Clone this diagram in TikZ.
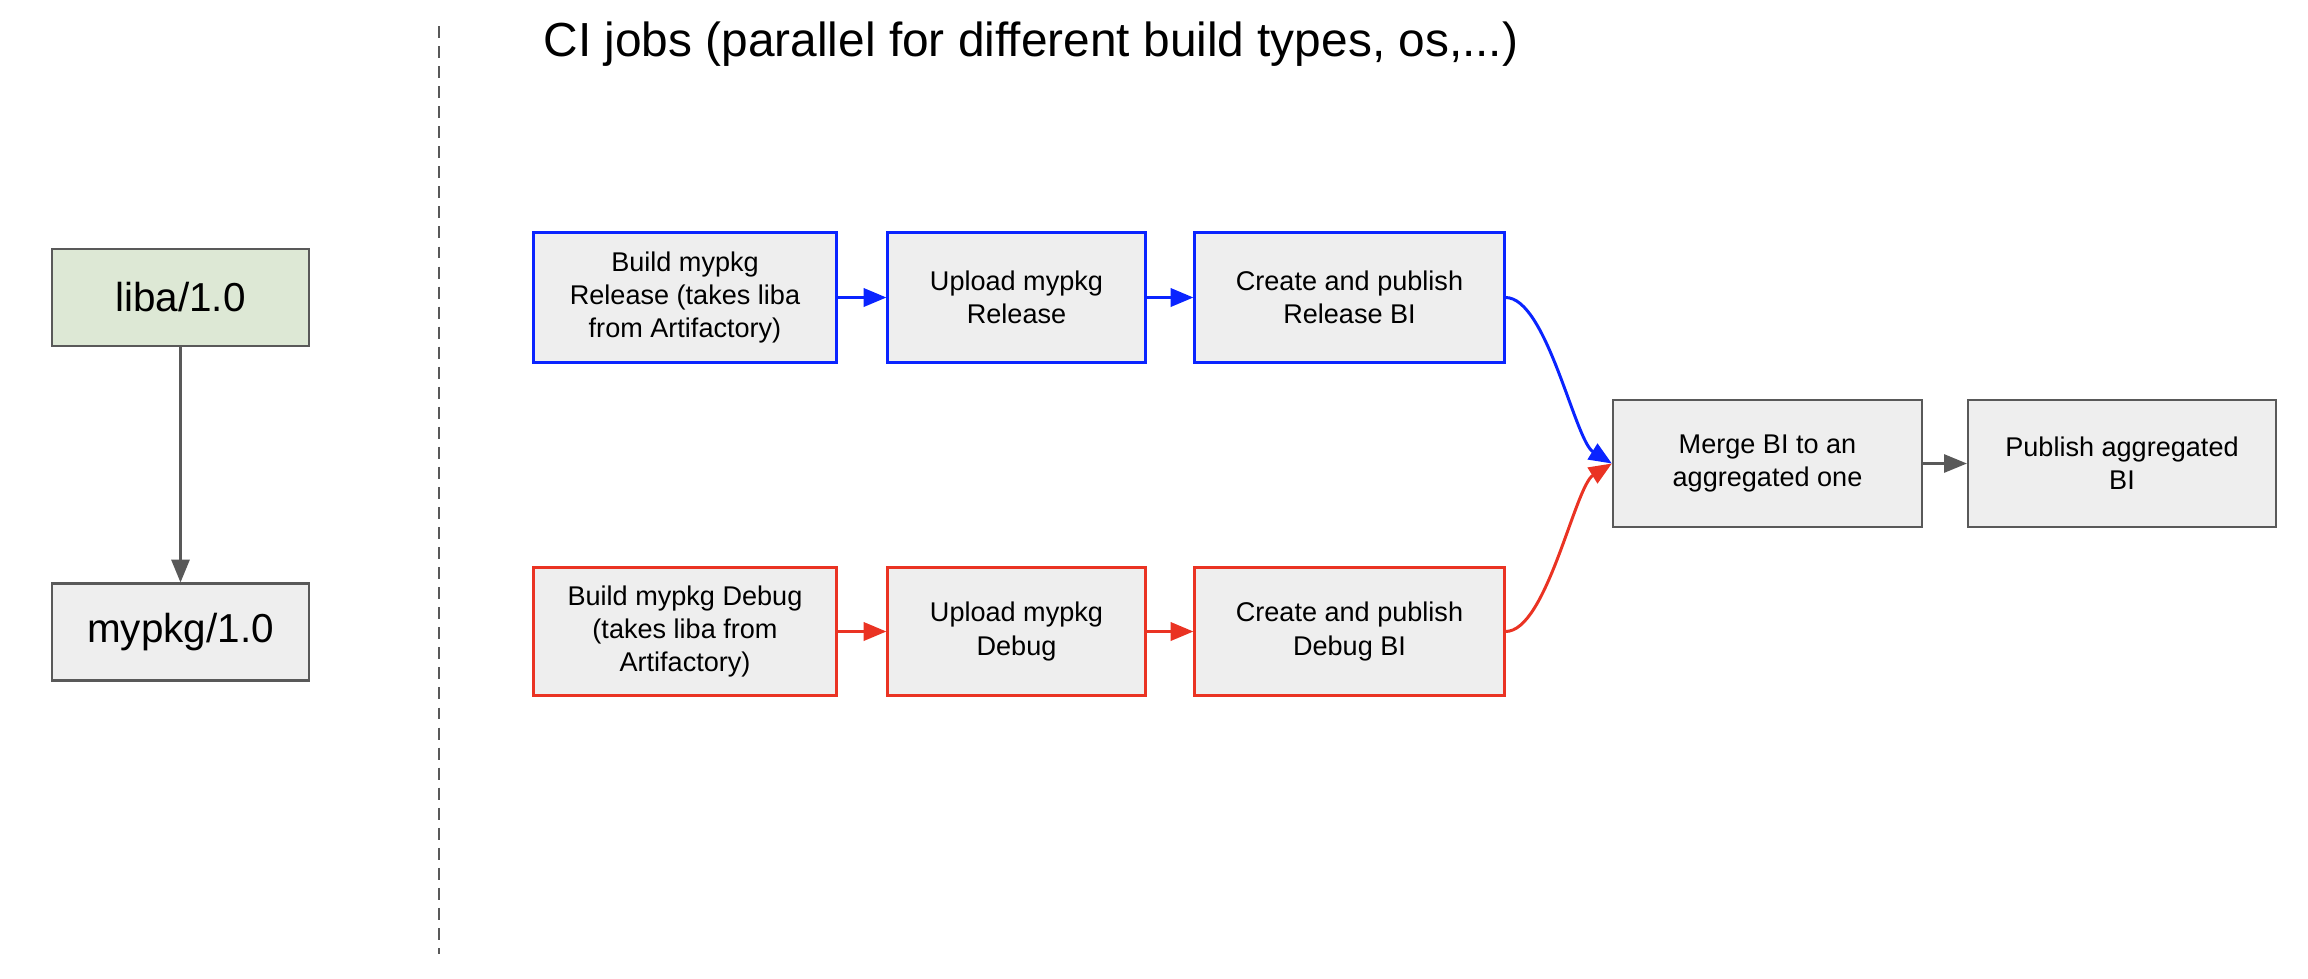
\documentclass[tikz,border=0pt]{standalone}
\usepackage{fontspec}
\setmainfont{Liberation Sans}
\usetikzlibrary{arrows.meta}
\definecolor{boxFill}{HTML}{EEEEEE}
\definecolor{libFill}{HTML}{DDE8D5}
\definecolor{greyStroke}{HTML}{595959}
\definecolor{relBlue}{HTML}{0A24FF}
\definecolor{dbgRed}{HTML}{EA3323}

\begin{document}
\begin{tikzpicture}[
  x=0.01cm, y=0.01cm,
  every node/.style={text=black},
  box/.style={draw=greyStroke, line width=0.6pt, fill=boxFill, align=center,
              inner sep=0pt, minimum height=1.27cm, font=\fontsize{7.7}{9.4}\selectfont},
  pkg/.style={box, minimum width=2.57cm, minimum height=0.97cm,
              font=\fontsize{11.5}{13}\selectfont},
  relbox/.style={box, draw=relBlue, line width=0.85pt, minimum height=1.29cm},
  dbgbox/.style={box, draw=dbgRed, line width=0.85pt},
  flow/.style={-{Triangle[length=6.5pt,width=5.2pt]}, line width=0.6pt, draw=greyStroke},
  relflow/.style={flow, draw=relBlue, line width=0.85pt},
  dbgflow/.style={flow, draw=dbgRed, line width=0.85pt},
  sep/.style={draw=greyStroke, line width=0.6pt, dash pattern=on 3.4pt off 2.3pt},
  title/.style={font=\fontsize{13.6}{15}\selectfont},
]
\useasboundingbox (0,0) rectangle (2308,-978);

% ---------------- PACKAGES ----------------
\node[pkg, fill=libFill] (LIBA) at (180.5,-297.5) {liba/1.0};
\node[pkg] (MYPKG) at (180.5,-632) {mypkg/1.0};

% ---------------- SEPARATOR + TITLE ----------------
\coordinate (SEPTOP) at (439,-26);
\coordinate (SEPBOT) at (439,-954);
\node[title] (TITLE) at (1031,-44) {CI jobs (parallel for different build types, os,...)};

% ---------------- CI JOBS ----------------
\node[relbox, minimum width=3.02cm] (BUILDR) at (685,-297.5)
  {Build mypkg\\Release (takes liba\\from Artifactory)};
\node[relbox, minimum width=2.57cm] (UPLOADR) at (1016.5,-297.5) {Upload mypkg\\Release};
\node[relbox, minimum width=3.09cm] (CREATER) at (1349.5,-297.5) {Create and publish\\Release BI};

\node[dbgbox, minimum width=3.02cm] (BUILDD) at (685,-631.5)
  {Build mypkg Debug\\(takes liba from\\Artifactory)};
\node[dbgbox, minimum width=2.57cm] (UPLOADD) at (1016.5,-631.5) {Upload mypkg\\Debug};
\node[dbgbox, minimum width=3.09cm] (CREATED) at (1349.5,-631.5) {Create and publish\\Debug BI};

\node[box, minimum width=3.09cm] (MERGE) at (1767.5,-463.5) {Merge BI to an\\aggregated one};
\node[box, minimum width=3.08cm] (PUBLISH) at (2122,-463.5) {Publish aggregated\\BI};

% ---------------- EDGES ----------------
\draw[sep] (SEPTOP) -- (SEPBOT);
\draw[flow] (LIBA) -- (MYPKG);
\draw[relflow] (BUILDR) -- (UPLOADR);
\draw[relflow] (UPLOADR) -- (CREATER);
\draw[dbgflow] (BUILDD) -- (UPLOADD);
\draw[dbgflow] (UPLOADD) -- (CREATED);
% both BI branches join at the merge job
\draw[relflow] (CREATER.east) .. controls +(41,0) and +(-37,23) .. (MERGE.west);
\draw[dbgflow] (CREATED.east) .. controls +(41,0) and +(-37,-23) .. (MERGE.west);
\draw[flow] (MERGE) -- (PUBLISH);
\end{tikzpicture}
\end{document}
